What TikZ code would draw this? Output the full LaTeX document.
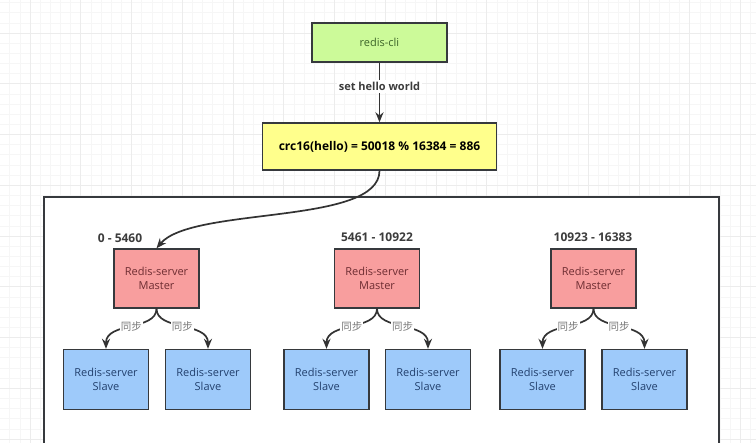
\documentclass[tikz,border=0pt]{standalone}
\usepackage{fontspec}
\setmainfont{Open Sans}
\newfontfamily\cjk{Noto Sans CJK SC}
\usetikzlibrary{arrows.meta,positioning}
\definecolor{edgegrey}{RGB}{54,57,61}
\definecolor{linegrey}{RGB}{51,51,51}
\definecolor{labelgrey}{RGB}{60,60,60}
\definecolor{gridminor}{RGB}{246,246,246}
\definecolor{gridmajor}{RGB}{236,236,236}
\definecolor{cligreen}{RGB}{204,250,153}
\definecolor{clitext}{RGB}{60,100,40}
\definecolor{hashyellow}{RGB}{255,255,140}
\definecolor{masterred}{RGB}{248,158,158}
\definecolor{mastertext}{RGB}{110,45,50}
\definecolor{slaveblue}{RGB}{158,202,250}
\definecolor{slavetext}{RGB}{35,65,110}
\definecolor{synctext}{RGB}{120,120,120}

\begin{document}
\begin{tikzpicture}[x=1pt, y=-1pt,
    box/.style={rectangle, draw=edgegrey, line width=1.4pt, align=center, inner sep=0pt},
    client/.style={box, fill=cligreen, text=clitext, minimum width=135pt, minimum height=39pt,
                   font=\fontsize{11}{14}\selectfont},
    hash/.style={box, fill=hashyellow, text=black, minimum width=234pt, minimum height=47pt,
                 font=\bfseries\fontsize{12}{14}\selectfont},
    master/.style={box, fill=masterred, text=mastertext, minimum width=85pt, minimum height=59pt,
                   font=\fontsize{11}{14}\selectfont},
    slave/.style={box, fill=slaveblue, text=slavetext, minimum width=85pt, minimum height=60pt,
                  font=\fontsize{11}{14}\selectfont},
    link/.style={draw=linegrey, line width=1.7pt, -{Stealth[length=10pt, width=8pt]}},
    sync/.style={font=\cjk\fontsize{10.5}{12}\selectfont, text=synctext, fill=white, inner sep=1pt},
    slotrange/.style={font=\bfseries\fontsize{12}{14}\selectfont, text=labelgrey}
]
    \clip (0,0) rectangle (756,443);

    % background grid
    \foreach \i in {0,...,75} \draw[gridminor, line width=0.6pt] (-0.45+\i*10.15,0) -- (-0.45+\i*10.15,443);
    \foreach \j in {0,...,43} \draw[gridminor, line width=0.6pt] (0,2.55+\j*10.15) -- (756,2.55+\j*10.15);
    \foreach \i in {0,...,14} \draw[gridmajor, line width=0.8pt] (30+\i*50.75,0) -- (30+\i*50.75,443);
    \foreach \j in {0,...,8} \draw[gridmajor, line width=0.8pt] (0,33+\j*50.75) -- (756,33+\j*50.75);

    % cluster frame
    \draw[edgegrey, line width=1.6pt, fill=white] (44,197) rectangle (719,470);

    \node[client] (cli) at (379.5,42.5) {redis-cli};
    \node[hash]   (crc) at (379.5,146.5) {crc16(hello) = 50018 \% 16384 = 886};
    \draw[link] (cli) -- node[pos=0.4, fill=white, inner sep=2pt, text=labelgrey,
        font=\bfseries\fontsize{11}{13}\selectfont] {set hello world} (crc);

    \node[slotrange] (range1) at (120,238) {0 - 5460};
    \node[master] (master1) at (156.5,278.5) {Redis-server\\Master};
    \node[slave]  (slave1a) at (106,379.5) {Redis-server\\Slave};
    \node[slave]  (slave1b) at (208,379.5) {Redis-server\\Slave};

    \node[slotrange] (range2) at (377,237) {5461 - 10922};
    \node[master] (master2) at (377,278.5) {Redis-server\\Master};
    \node[slave]  (slave2a) at (326.5,379.5) {Redis-server\\Slave};
    \node[slave]  (slave2b) at (428,379.5) {Redis-server\\Slave};

    \node[slotrange] (range3) at (593,237) {10923 - 16383};
    \node[master] (master3) at (593.5,278.5) {Redis-server\\Master};
    \node[slave]  (slave3a) at (542.5,379.5) {Redis-server\\Slave};
    \node[slave]  (slave3b) at (644.5,379.5) {Redis-server\\Slave};

    \draw[link] (crc.south) .. controls +(0,55) and (192,206) .. (master1.north);

    \draw[link] (master1.south) .. controls +(0,22) and +(0,-27) .. node[sync] {同步} (slave1a.north);
    \draw[link] (master1.south) .. controls +(0,22) and +(0,-27) .. node[sync] {同步} (slave1b.north);
    \draw[link] (master2.south) .. controls +(0,22) and +(0,-27) .. node[sync] {同步} (slave2a.north);
    \draw[link] (master2.south) .. controls +(0,22) and +(0,-27) .. node[sync] {同步} (slave2b.north);
    \draw[link] (master3.south) .. controls +(0,22) and +(0,-27) .. node[sync] {同步} (slave3a.north);
    \draw[link] (master3.south) .. controls +(0,22) and +(0,-27) .. node[sync] {同步} (slave3b.north);
\end{tikzpicture}
\end{document}
